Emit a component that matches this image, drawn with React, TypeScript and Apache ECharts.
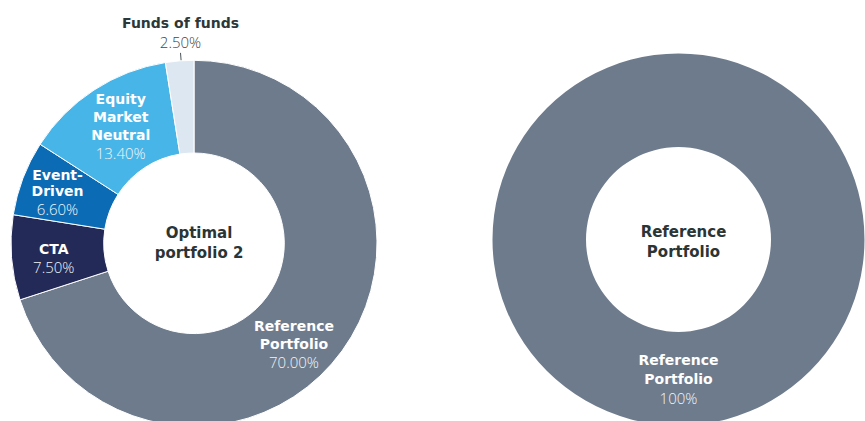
import React, { useEffect, useRef } from "react";
import * as echarts from "echarts";

const leftNames = ["Reference Portfolio", "CTA", "Event-Driven", "Equity Market Neutral", "Funds of funds"];
const leftLabels = ["Reference\nPortfolio", "CTA", "Event-\nDriven", "Equity\nMarket\nNeutral", "Funds of funds"];
const leftValues = [70.0, 7.5, 6.6, 13.4, 2.5];
const leftColors = ["#6e7b8c", "#232a57", "#0b6bb5", "#48b5e8", "#dce7f1"];

const rightNames = ["Reference Portfolio"];
const rightLabels = ["Reference\nPortfolio"];
const rightValues = [100];
const rightColors = ["#6e7b8c"];

const leftCenterTitle = "Optimal\nportfolio 2";
const rightCenterTitle = "Reference\nPortfolio";

const BOLD_FONT = "'DejaVu Sans', Inter, sans-serif";
const VALUE_FONT = "'Open Sans', Inter, sans-serif";

export default function App() {
  const ref = useRef<HTMLDivElement>(null);
  useEffect(() => {
    if (!ref.current) return;
    const chart = echarts.init(ref.current, undefined, { renderer: "svg" });
    const rich = (dark: boolean, nlh: number, vlh: number) => ({
      n: { fontFamily: BOLD_FONT, fontWeight: "bold", fontSize: 14, lineHeight: nlh, color: dark ? "#2d3738" : "#ffffff", align: "center" },
      v: { fontFamily: VALUE_FONT, fontWeight: 300, fontSize: 15, lineHeight: vlh, color: dark ? "#3d4748" : "#f2f5f8", align: "center" },
    });
    const leftShift: Record<number, [number, number]> = {
      0: [-13, 19],
      1: [-1, 4],
      2: [-6, -1],
      3: [3, 0],
    };
    const leftData = leftValues.map((v, i) => {
      const outside = i === 4;
      const nlh = i === 2 ? 16 : outside ? 19 : 18;
      const vlh = i === 2 ? 19 : nlh;
      return {
        name: leftNames[i],
        value: v,
        itemStyle: { color: leftColors[i] },
        label: {
          show: true,
          position: outside ? "outside" : "inside",
          formatter: `{n|${leftLabels[i]}}\n{v|${v.toFixed(2)}%}`,
          rich: rich(outside, nlh, vlh),
        },
        labelLine: outside
          ? { show: true, length: 8, length2: 0, lineStyle: { color: "#4a5556", width: 1 } }
          : { show: false },
      };
    });
    const rightData = rightValues.map((v, i) => ({
      name: rightNames[i],
      value: v,
      itemStyle: { color: rightColors[i] },
      label: {
        show: true,
        position: "inside",
        formatter: `{n|${rightLabels[i]}}\n{v|${v}%}`,
        rich: rich(false, 19, 19),
      },
      labelLine: { show: false },
    }));
    const centerStyle = { fontFamily: BOLD_FONT, fontWeight: "bold", fontSize: 15, lineHeight: 20, color: "#2b3535" };
    chart.setOption({
      animation: false,
      title: [
        { text: leftCenterTitle, left: 194, top: 238, textAlign: "center", textVerticalAlign: "middle", textStyle: centerStyle },
        { text: rightCenterTitle, left: 678.5, top: 237, textAlign: "center", textVerticalAlign: "middle", textStyle: centerStyle },
      ],
      series: [
        {
          type: "pie",
          center: [194, 243.3],
          radius: [90.3, 183],
          startAngle: 90,
          clockwise: true,
          avoidLabelOverlap: false,
          silent: true,
          itemStyle: { borderColor: "#ffffff", borderWidth: 1 },
          data: leftData,
          labelLayout: (p: any) => {
            const s = leftShift[p.dataIndex];
            if (s) return { dx: s[0], dy: s[1] };
            if (p.dataIndex === 4 && p.labelLinePoints) {
              const a = p.labelLinePoints[0];
              const b = p.labelLinePoints[1];
              const dx = a[0] - b[0];
              const dy = a[1] - b[1];
              const len = Math.sqrt(dx * dx + dy * dy) || 1;
              const a2 = [a[0] + (dx / len) * 7, a[1] + (dy / len) * 7];
              return {
                x: b[0] + 1.5,
                y: b[1] - 1,
                align: "center",
                verticalAlign: "bottom",
                labelLinePoints: [[a2[0] + 1.5, a2[1]], [b[0] + 1.5, b[1]], [b[0] + 1.5, b[1]]],
              };
            }
            return {};
          },
        },
        {
          type: "pie",
          center: [678.5, 239.5],
          radius: [92.5, 186],
          startAngle: 90,
          clockwise: true,
          silent: true,
          itemStyle: { borderWidth: 0 },
          data: rightData,
          labelLayout: () => ({ dy: -3 }),
        },
      ],
    });
    return () => chart.dispose();
  }, []);
  return <div ref={ref} style={{ position: "fixed", left: 0, top: 0, width: 865, height: 421, background: "#ffffff" }} />;
}
